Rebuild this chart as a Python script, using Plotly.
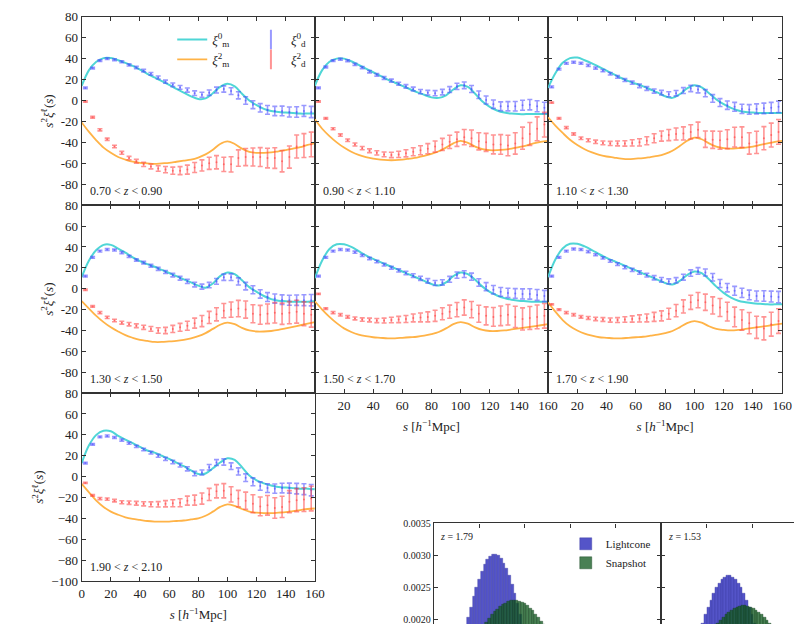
import plotly.graph_objects as go

# ---------------------------------------------------------------------------
# Correlation-function multipoles in seven redshift slices
# ---------------------------------------------------------------------------
S_MODEL = [0, 5, 10, 15, 20, 25, 30, 35, 40, 45, 50, 55, 60, 65, 70, 75, 80,
           85, 90, 95, 100, 105, 110, 115, 120, 125, 130, 135, 140, 145, 150,
           155, 160]
S_DATA = [2.5, 7.5, 12.5, 17.5, 22.5, 27.5, 32.5, 37.5, 42.5, 47.5, 52.5,
          57.5, 62.5, 67.5, 72.5, 77.5, 82.5, 87.5, 92.5, 97.5, 102.5, 107.5,
          112.5, 117.5, 122.5, 127.5, 132.5, 137.5, 142.5, 147.5, 152.5, 157.5]

Z_LABELS = ["0.70 < <i>z</i> < 0.90", "0.90 < <i>z</i> < 1.10",
            "1.10 < <i>z</i> < 1.30", "1.30 < <i>z</i> < 1.50",
            "1.50 < <i>z</i> < 1.70", "1.70 < <i>z</i> < 1.90",
            "1.90 < <i>z</i> < 2.10"]

# model monopole, one row per redshift slice (on S_MODEL)
XI0_MODEL = [
    [14, 29, 37, 40.5, 40.5, 38.5, 36, 33, 29.5, 25.5, 22, 18.5, 15, 11, 7.5, 4, 1.5, 2, 7, 13, 16, 13.5, 6.5, 0, -4.5, -8, -10, -11, -11.5, -12, -12.5, -12.5, -12.5],
    [14, 29, 37, 40, 40, 37.5, 34, 30.5, 27, 23.5, 20, 17, 14, 11, 8, 5.5, 3, 2.5, 5, 10.5, 14.5, 13, 6.5, -1, -6, -9.5, -11.5, -12.5, -13, -13, -13, -13, -13],
    [12, 26, 36, 40.5, 41, 38.5, 35.5, 32, 28.5, 25, 21.5, 18.5, 16, 13.5, 10.5, 7.5, 4, 2.5, 6, 11.5, 14.5, 12.5, 7, 1, -3.5, -7, -9.5, -11, -11.5, -12, -12, -12, -12],
    [11, 27, 37, 42, 42, 38.5, 34.5, 30, 26.5, 23.5, 21, 18, 15, 12, 9, 6, 3, 1, 5, 12, 15.5, 14, 8, 1.5, -3, -7, -10, -11.5, -12, -12.5, -12.5, -12.5, -12],
    [10, 27, 38, 42.5, 42.5, 40, 36, 32, 28.5, 25.5, 22.5, 19.5, 16.5, 13.5, 10.5, 7.5, 4.5, 3, 6, 12, 15.5, 14, 8.5, 2, -3, -6.5, -9, -10.5, -11.5, -12, -12.5, -12.5, -12.5],
    [11, 28, 38.5, 43, 43, 40.5, 37, 33, 29.5, 26.5, 23.5, 20.5, 17.5, 14.5, 11.5, 8.5, 5.5, 4, 7.5, 13, 16.5, 15, 9, 2, -4, -8.5, -11.5, -13, -14, -14.5, -15, -15, -15],
    [13, 30, 40, 44, 43.5, 39, 35.5, 32, 28.5, 25, 23, 20, 17, 13.5, 10, 6, 2.5, 3, 8, 13.5, 17.5, 16, 9, 1, -3.5, -6.5, -8.5, -10, -10.5, -11, -11.5, -11.5, -12],
]

# model quadrupole (on S_MODEL)
XI2_MODEL = [
    [-21, -30, -38, -45, -50, -54, -56.5, -58.5, -59.5, -60, -60.5, -60, -59.5, -58.5, -57.5, -56.5, -54.5, -51.5, -47, -41.5, -39, -41.5, -46, -49, -50, -50, -49.5, -48.5, -47.5, -46, -44.5, -42.5, -41],
    [-18, -27, -34, -40, -45, -49, -52, -54, -55.5, -56.5, -57, -57, -56.5, -55.5, -54.5, -53, -51, -48.5, -45, -41, -38.5, -40.5, -44, -46.5, -47.5, -47.5, -47, -46, -44.5, -43, -41, -39.5, -38.5],
    [-16, -24, -31, -37.5, -42.5, -46.5, -49.5, -52, -53.5, -54.5, -55.5, -56, -55.5, -55, -54, -53, -51, -48, -43.5, -38.5, -35.5, -37, -41, -44, -45.5, -46, -45.5, -45, -44, -42.5, -41, -39.5, -38.5],
    [-12, -19, -26, -32, -37, -41, -44.5, -47, -49, -50, -51, -51, -50.5, -50, -49, -47.5, -45.5, -42.5, -38.5, -34.5, -32.5, -34, -37.5, -40, -41, -41, -40.5, -39.5, -38, -36.5, -35, -33.5, -32],
    [-12, -20, -27, -33, -38, -41.5, -44, -45.5, -46.5, -47, -47.5, -47.5, -47, -46.5, -46, -45, -43.5, -41.5, -38, -34, -32, -33.5, -37, -39.5, -40.5, -40.5, -40, -39, -38, -37, -36, -35, -34],
    [-13, -22, -30, -36, -40, -43, -45, -46.5, -47, -47.5, -47.5, -47, -46.5, -46, -45, -44, -42.5, -40.5, -37, -33, -31, -32.5, -36, -38.5, -39.5, -40, -39.5, -38.5, -37.5, -36.5, -35.5, -34.5, -33.5],
    [-7, -15, -23, -29, -33.5, -36.5, -39, -40.5, -41.5, -42.5, -43, -43, -43, -42.5, -42, -41, -40, -37.5, -33.5, -29, -26.5, -28, -31, -33.5, -34.5, -35, -35, -34.5, -34, -33, -32, -31, -30.5],
]

# measured monopole (on S_DATA)
XI0_DATA = [
    [12, 31, 38, 40, 39, 37, 34, 31.5, 28.5, 25.5, 22, 18, 15, 12.5, 10, 7, 5.5, 7.5, 10, 11, 9, 5, 0, -4, -7, -9, -10, -10, -11, -11, -10, -11],
    [12, 32, 38, 39.5, 38, 34.5, 31.5, 27.5, 24.5, 21.5, 19, 16, 13.5, 11, 8.5, 7.5, 7, 8, 10.5, 13.5, 14.5, 11, 5.5, 0.5, -3.5, -5.5, -5.5, -5.5, -4.5, -4, -5.5, -7],
    [13, 30, 35.5, 36.5, 35.5, 33.5, 31, 28.5, 25.5, 22.5, 19.5, 17, 14, 11.5, 9, 7.5, 6, 7, 9.5, 11.5, 10.5, 7, 2, -2, -4.5, -6, -8, -8.5, -8, -7.5, -7, -6],
    [12, 30, 36, 37.5, 37, 34.5, 31, 27.5, 25, 22, 19, 16, 13, 10, 7, 4, 2, 3.5, 7, 11, 11, 7, 2.5, -1, -5, -8, -9.5, -10.5, -11, -11, -11, -11],
    [12, 30, 36, 37.5, 37, 35, 32, 29, 26, 23, 20, 17.5, 15, 12.5, 10, 7.5, 5.5, 6, 9, 13, 14, 11.5, 6, 2, -1, -3, -4, -4.5, -5, -5, -6, -7],
    [12, 30, 36, 38, 37.5, 35.5, 32.5, 29.5, 26.5, 23.5, 20.5, 18, 15.5, 13, 10.5, 8.5, 7, 8, 11, 15, 17, 15.5, 11, 5, 1, -2, -4, -6, -7, -7, -7.5, -8],
    [13, 31, 38, 39, 37.5, 35, 32, 29, 26, 23, 20, 17, 14, 11, 7.5, 3, 4, 9, 13.5, 14, 10, 5, -1, -5, -9, -11, -11.5, -11, -11, -11.5, -12, -13],
]

# measured quadrupole (on S_DATA)
XI2_DATA = [
    [-1, -16, -28, -37, -44, -50, -55, -58, -61, -63, -65, -66, -67, -67, -66, -64, -62, -60, -59, -61, -61, -55, -54, -54, -54, -55, -55, -58, -54, -44, -43, -42],
    [-1, -17, -27, -33, -38, -42, -45.5, -48, -50, -51.5, -52, -51.5, -50.5, -49, -47.5, -46, -44, -42, -39.5, -37, -35, -36, -39, -40, -42, -42, -43, -41, -36, -32, -27, -23],
    [-2, -17, -26, -32, -36, -38, -39.5, -40.5, -41, -41, -41, -40.5, -40, -38.5, -36, -34, -33, -32, -31.5, -30, -28, -37, -37.5, -38, -37, -35, -35, -41, -40, -36, -33, -30],
    [-1, -17, -23, -27.5, -30.5, -32.5, -34, -35.5, -37, -38.5, -40, -40, -38.5, -37, -35.5, -33, -31, -27.5, -24.5, -21, -20, -19, -20, -24, -25, -24, -23, -24, -23, -22, -24, -25],
    [-5, -19, -23, -25, -27, -28.5, -29.5, -30, -30.5, -30.5, -30, -29.5, -29, -28, -27.5, -27, -26, -24, -22, -20, -18, -20, -24, -26, -27, -26, -25, -27, -29, -28, -27, -26],
    [-15, -20, -23, -25, -27, -28, -29, -29.5, -30, -30, -29.5, -29, -28.5, -28, -27, -26, -24, -21, -17, -13, -11, -13, -16, -18, -22, -27, -30, -33, -37, -38, -34, -31],
    [-6, -18, -21, -21.5, -23, -24.5, -25, -25.5, -26, -26.5, -26.5, -26, -25.5, -25, -23, -22.5, -21, -17, -14, -13.5, -17, -21, -23, -26, -28.5, -27.5, -30, -29, -24, -22.5, -22, -21],
]

# 1-sigma uncertainties (on S_DATA)
XI0_ERR = [0.8, 0.8, 0.8, 0.9, 0.9, 1.0, 1.0, 1.1, 1.2, 1.3, 1.4, 1.5, 1.7, 1.8,
           2.0, 2.2, 2.4, 2.6, 2.8, 3.0, 3.2, 3.4, 3.6, 3.8, 4.0, 4.2, 4.4, 4.6,
           4.8, 5.0, 5.2, 5.4]
XI2_ERR = [0.6, 0.8, 1.0, 1.1, 1.2, 1.4, 1.6, 1.8, 2.0, 2.3, 2.6, 3.0, 3.4, 3.8,
           4.3, 4.8, 5.3, 5.8, 6.3, 6.8, 7.3, 7.8, 8.2, 8.6, 9.0, 9.4, 9.8, 10.2,
           10.6, 11.0, 11.4, 11.8]

Y_TICKS = [-100, -80, -60, -40, -20, 0, 20, 40, 60, 80]
X_TICKS = [0, 20, 40, 60, 80, 100, 120, 140, 160]

# ---------------------------------------------------------------------------
# Inset: Lightcone vs Snapshot distributions (upper part of the histograms)
# ---------------------------------------------------------------------------
BIN_WIDTH = 0.06
LC_X_A = [0.70, 0.76, 0.82, 0.88, 0.94, 1.00, 1.06, 1.12, 1.18, 1.24, 1.30, 1.36,
          1.42, 1.48, 1.54, 1.60, 1.66, 1.72, 1.78, 1.84, 1.90, 1.96, 2.02]
LC_Y_A = [0.00186, 0.00203, 0.00219, 0.00235, 0.00250, 0.00263, 0.00275, 0.00285,
          0.00293, 0.00298, 0.00301, 0.00302, 0.00300, 0.00295, 0.00288, 0.00279,
          0.00268, 0.00255, 0.00240, 0.00225, 0.00208, 0.00192, 0.00175]
SN_X_A = [1.10, 1.16, 1.22, 1.28, 1.34, 1.40, 1.46, 1.52, 1.58, 1.64, 1.70, 1.76,
          1.82, 1.88, 1.94, 2.00, 2.06, 2.12, 2.18, 2.24, 2.30, 2.36, 2.42, 2.48]
SN_Y_A = [0.00189, 0.00195, 0.00201, 0.00207, 0.00212, 0.00216, 0.00220, 0.00223,
          0.00225, 0.00227, 0.00229, 0.00229, 0.00229, 0.00228, 0.00226, 0.00224,
          0.00221, 0.00217, 0.00213, 0.00208, 0.00203, 0.00197, 0.00191, 0.00185]
LC_X_B = [0.86, 0.92, 0.98, 1.04, 1.10, 1.16, 1.22, 1.28, 1.34, 1.40, 1.46, 1.52,
          1.58, 1.64, 1.70, 1.76, 1.82, 1.88, 1.94, 2.00, 2.06, 2.12]
LC_Y_B = [0.00181, 0.00194, 0.00207, 0.00219, 0.00230, 0.00241, 0.00249, 0.00256,
          0.00262, 0.00266, 0.00268, 0.00268, 0.00266, 0.00262, 0.00256, 0.00249,
          0.00241, 0.00230, 0.00219, 0.00207, 0.00194, 0.00181]
SN_X_B = [1.19, 1.25, 1.31, 1.37, 1.43, 1.49, 1.55, 1.61, 1.67, 1.73, 1.79, 1.85,
          1.91, 1.97, 2.03, 2.09, 2.15, 2.21, 2.27, 2.33, 2.39, 2.45]
SN_Y_B = [0.00188, 0.00193, 0.00198, 0.00203, 0.00208, 0.00211, 0.00214, 0.00217,
          0.00219, 0.00220, 0.00221, 0.00221, 0.00220, 0.00219, 0.00217, 0.00214,
          0.00211, 0.00208, 0.00203, 0.00198, 0.00193, 0.00188]
INSET_LABELS = ["<i>z</i> = 1.79", "<i>z</i> = 1.53"]

# ---------------------------------------------------------------------------
W, H = 804, 632
FONT = "Liberation Serif"
CYAN = "#4fd6d6"
ORANGE = "#ffb347"
BLUE = "rgba(70,70,255,0.55)"
RED = "rgba(255,60,60,0.55)"
AXC = "#333333"

COL_PX = [80, 317, 554, 792]
ROW_PX = [10, 203, 395.5, 588]
PANELS = [(0, 0), (0, 1), (0, 2), (1, 0), (1, 1), (1, 2), (2, 0)]

fig = go.Figure()
layout = dict()

for i, (r, c) in enumerate(PANELS):
    n = "" if i == 0 else str(i + 1)
    xa, ya = "x" + n, "y" + n
    fig.add_trace(go.Scatter(
        x=S_MODEL, y=XI0_MODEL[i], mode="lines", line=dict(color=CYAN, width=2, shape="spline"),
        name="<i>ξ</i><sup>0</sup><sub>m</sub>", showlegend=(i == 0), legend="legend",
        xaxis=xa, yaxis=ya))
    fig.add_trace(go.Scatter(
        x=S_MODEL, y=XI2_MODEL[i], mode="lines", line=dict(color=ORANGE, width=1.8, shape="spline"),
        name="<i>ξ</i><sup>2</sup><sub>m</sub>", showlegend=(i == 0), legend="legend",
        xaxis=xa, yaxis=ya))
    fig.add_trace(go.Scatter(
        x=S_DATA, y=XI0_DATA[i], mode="markers", marker=dict(color=BLUE, size=2),
        error_y=dict(type="data", array=XI0_ERR, color=BLUE, thickness=1.6, width=2.5),
        showlegend=False, xaxis=xa, yaxis=ya))
    fig.add_trace(go.Scatter(
        x=S_DATA, y=XI2_DATA[i], mode="markers", marker=dict(color=RED, size=2),
        error_y=dict(type="data", array=XI2_ERR, color=RED, thickness=1.6, width=2.5),
        showlegend=False, xaxis=xa, yaxis=ya))

    x_lbl = (r == 2) or (r == 1 and c > 0)
    y_lbl = (c == 0)
    if r == 2:
        xt = [str(v) for v in X_TICKS]
    else:
        xt = [""] + [str(v) for v in X_TICKS[1:]]
    if r == 2:
        yt = [str(v).replace("-", "\u2212") for v in Y_TICKS]
    else:
        yt = [""] + [str(v) for v in Y_TICKS[1:]]

    x0, x1 = COL_PX[c] / W, COL_PX[c + 1] / W
    y0, y1 = 1 - ROW_PX[r + 1] / H, 1 - ROW_PX[r] / H
    common = dict(showline=True, linecolor=AXC, linewidth=1.2, mirror="ticks",
                  ticks="inside", ticklen=4, tickwidth=1, tickcolor=AXC,
                  showgrid=False, zeroline=False,
                  tickfont=dict(family=FONT, size=13, color="#222"))
    layout["xaxis" + n] = dict(
        common, domain=[x0, x1], range=[0, 160], anchor=ya,
        tickmode="array", tickvals=X_TICKS, ticktext=xt, showticklabels=x_lbl,
        title=dict(text="<i>s</i> [<i>h</i><sup>−1</sup>Mpc]" if x_lbl else "",
                   font=dict(family=FONT, size=13, color="#222"), standoff=10))
    layout["yaxis" + n] = dict(
        common, domain=[y0, y1], range=[-100, 80], anchor=xa,
        tickmode="array", tickvals=Y_TICKS, ticktext=yt, showticklabels=y_lbl,
        title=dict(text="<i>s</i><sup>2</sup><i>ξ</i><sup>ℓ</sup>(<i>s</i>)" if y_lbl else "",
                   font=dict(family=FONT, size=13, color="#222"), standoff=4))

# legend glyphs for the measured multipoles
fig.add_trace(go.Scatter(
    x=[None], y=[None], mode="markers", name="<i>ξ</i><sup>0</sup><sub>d</sub>",
    marker=dict(symbol="line-ns-open", size=14, color=BLUE, line=dict(width=2, color=BLUE)),
    legend="legend2", xaxis="x", yaxis="y"))
fig.add_trace(go.Scatter(
    x=[None], y=[None], mode="markers", name="<i>ξ</i><sup>2</sup><sub>d</sub>",
    marker=dict(symbol="line-ns-open", size=14, color=RED, line=dict(width=2, color=RED)),
    legend="legend2", xaxis="x", yaxis="y"))

annotations = []
for i, (r, c) in enumerate(PANELS):
    n = "" if i == 0 else str(i + 1)
    annotations.append(dict(
        text=Z_LABELS[i], xref="x" + n + " domain", yref="y" + n + " domain",
        x=0.025, y=0.075, xanchor="left", yanchor="middle", showarrow=False,
        font=dict(family=FONT, size=12, color="#222")))

# ---- inset histograms -----------------------------------------------------
LC_BLUE = "#5454c8"
SN_GREEN = "rgba(22,92,36,0.78)"
for xs, ys, xa, ya, show in [(LC_X_A, LC_Y_A, "x8", "y8", True), (LC_X_B, LC_Y_B, "x9", "y9", False)]:
    fig.add_trace(go.Bar(x=xs, y=ys, width=BIN_WIDTH, name="Lightcone", showlegend=show,
                         legend="legend3", marker=dict(color=LC_BLUE, line=dict(width=0.4, color="#3a3aa0")),
                         xaxis=xa, yaxis=ya))
for xs, ys, xa, ya, show in [(SN_X_A, SN_Y_A, "x8", "y8", True), (SN_X_B, SN_Y_B, "x9", "y9", False)]:
    fig.add_trace(go.Bar(x=xs, y=ys, width=BIN_WIDTH, name="Snapshot", showlegend=show,
                         legend="legend3", marker=dict(color=SN_GREEN, line=dict(width=0.4, color="#12401c")),
                         xaxis=xa, yaxis=ya))

inset_top = 1 - 529 / H
ins_common = dict(showline=True, linecolor=AXC, linewidth=1.2, ticks="inside", ticklen=4,
                  tickcolor=AXC, showgrid=False, zeroline=False,
                  tickfont=dict(family=FONT, size=10, color="#222"))
layout["xaxis8"] = dict(ins_common, domain=[438 / W, 669 / W], range=[0, 5], anchor="y8",
                        side="top", tickvals=[1, 2, 3, 4], showticklabels=False)
layout["yaxis8"] = dict(ins_common, domain=[0, inset_top], range=[0.001924, 0.0035], anchor="x8",
                        mirror="ticks", tickvals=[0.0020, 0.0025, 0.0030, 0.0035],
                        ticktext=["0.0020", "0.0025", "0.0030", "0.0035"])
layout["xaxis9"] = dict(ins_common, domain=[669 / W, 1.0], range=[0, 135 / 46.2], anchor="y9",
                        side="top", tickvals=[1, 2], showticklabels=False)
layout["yaxis9"] = dict(ins_common, domain=[0, inset_top], range=[0.001924, 0.0035], anchor="x9",
                        tickvals=[0.0020, 0.0025, 0.0030, 0.0035], showticklabels=False)

for k, xa in enumerate(["x8", "x9"]):
    ya = "y8" if k == 0 else "y9"
    annotations.append(dict(
        text=INSET_LABELS[k], xref=xa + " domain", yref=ya + " domain",
        x=0.02 if k == 0 else 0.035, y=0.87, xanchor="left", yanchor="middle", showarrow=False,
        font=dict(family=FONT, size=10, color="#222")))

fig.update_layout(
    **layout,
    width=W, height=H, margin=dict(l=0, r=0, t=0, b=0),
    paper_bgcolor="white", plot_bgcolor="white",
    barmode="overlay", bargap=0,
    annotations=annotations,
    font=dict(family=FONT, size=13, color="#222"),
    legend=dict(x=172 / W, y=1 - 18 / H, xanchor="left", yanchor="top",
                bgcolor="rgba(0,0,0,0)", font=dict(family=FONT, size=13),
                itemwidth=30, tracegroupgap=0),
    legend2=dict(x=252 / W, y=1 - 18 / H, xanchor="left", yanchor="top",
                 bgcolor="rgba(0,0,0,0)", font=dict(family=FONT, size=13),
                 itemwidth=30, tracegroupgap=0),
    legend3=dict(x=572 / W, y=1 - 535 / H, xanchor="left", yanchor="top",
                 bgcolor="rgba(0,0,0,0)", font=dict(family=FONT, size=11),
                 itemwidth=30, tracegroupgap=0),
)

fig.write_html("out.html")
